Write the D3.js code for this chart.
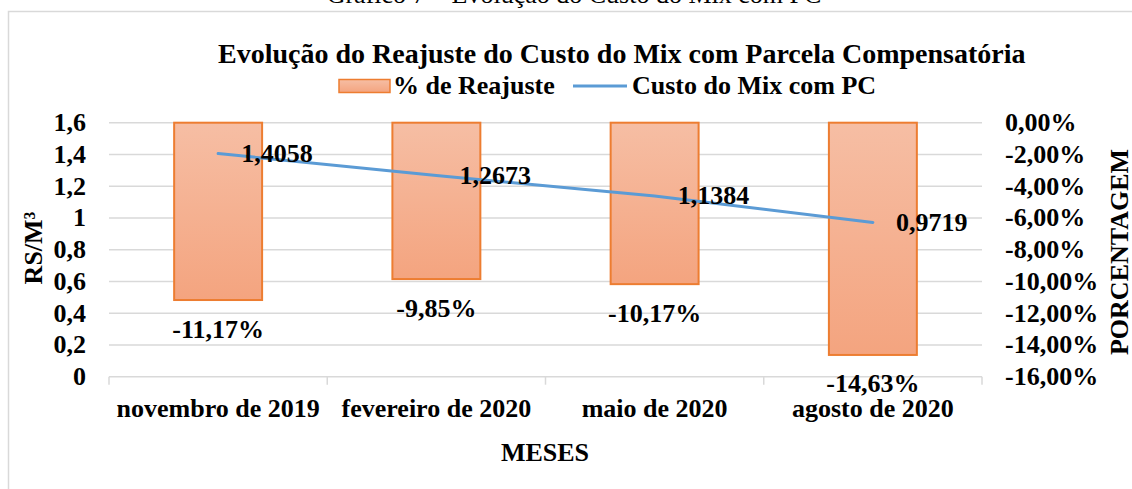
<!DOCTYPE html>
<html><head><meta charset="utf-8">
<script src="https://cdn.jsdelivr.net/npm/d3@7"></script>
<style>body{margin:0;background:#fff}svg{display:block}text{font-family:"Liberation Serif","Times New Roman",serif}</style>
</head><body>
<svg id="c" width="1132" height="489"></svg>
<script>
const categories = ["novembro de 2019","fevereiro de 2020","maio de 2020","agosto de 2020"];
const reajuste = [-11.17, -9.85, -10.17, -14.63];
const reajusteLabels = ["-11,17%","-9,85%","-10,17%","-14,63%"];
const custo = [1.4058, 1.2673, 1.1384, 0.9719];
const custoLabels = ["1,4058","1,2673","1,1384","0,9719"];
const leftTicks = [0,0.2,0.4,0.6,0.8,1,1.2,1.4,1.6];
const leftTickLabels = ["0","0,2","0,4","0,6","0,8","1","1,2","1,4","1,6"];
const rightTicks = [0,-2,-4,-6,-8,-10,-12,-14,-16];
const rightTickLabels = ["0,00%","-2,00%","-4,00%","-6,00%","-8,00%","-10,00%","-12,00%","-14,00%","-16,00%"];

const svg = d3.select("#c");
const L = 109, R = 982, T = 122.7, B = 376.7;
const FS = 26;

// outer border
svg.append("rect").attr("x",8.5).attr("y",11.5).attr("width",1300).attr("height",700)
  .attr("fill","none").attr("stroke","#d9d9d9").attr("stroke-width",1.5);

// caption (cut off at top)
svg.append("text").attr("x",574).attr("y",3).attr("text-anchor","middle")
  .attr("font-size",26).attr("fill","#000").text("Gráfico 7 – Evolução do Custo do Mix com PC");

const x = d3.scaleBand().domain(categories).range([L,R]).paddingInner(0).paddingOuter(0);
const yL = d3.scaleLinear().domain([0,1.6]).range([B,T]);
const yR = d3.scaleLinear().domain([-16,0]).range([B,T]);

// gridlines
svg.append("g").selectAll("line").data(leftTicks.slice(1)).join("line")
  .attr("x1",L).attr("x2",R).attr("y1",d=>yL(d)).attr("y2",d=>yL(d))
  .attr("stroke","#d9d9d9").attr("stroke-width",1.5);

// x axis line and ticks
svg.append("line").attr("x1",L).attr("x2",R).attr("y1",B).attr("y2",B).attr("stroke","#d9d9d9").attr("stroke-width",1.5);
const bounds = categories.map(c=>x(c)).concat([x(categories[categories.length-1])+x.bandwidth()]);
svg.append("g").selectAll("line").data(bounds).join("line")
  .attr("x1",d=>d).attr("x2",d=>d).attr("y1",B).attr("y2",B+8)
  .attr("stroke","#d9d9d9").attr("stroke-width",1.5);

// gradient
const defs = svg.append("defs");
const g = defs.append("linearGradient").attr("id","barg").attr("x1",0).attr("y1",0).attr("x2",0).attr("y2",1);
g.append("stop").attr("offset","0%").attr("stop-color","#f6bea4");
g.append("stop").attr("offset","100%").attr("stop-color","#f4a47f");

// bars (hang from 0% at top)
const bw = x.bandwidth()*0.403;
svg.append("g").selectAll("rect").data(reajuste).join("rect")
  .attr("x",(d,i)=>x(categories[i])+x.bandwidth()/2-bw/2)
  .attr("y",yR(0)).attr("width",bw).attr("height",d=>yR(d)-yR(0))
  .attr("fill","url(#barg)").attr("stroke","#ed7d31").attr("stroke-width",2);

// bar labels
svg.append("g").selectAll("text").data(reajuste).join("text")
  .attr("x",(d,i)=>x(categories[i])+x.bandwidth()/2).attr("y",d=>yR(d)+29)
  .attr("text-anchor","middle").attr("dominant-baseline","central")
  .attr("font-size",FS).attr("font-weight","bold").text((d,i)=>reajusteLabels[i]);

// line
const line = d3.line().x((d,i)=>x(categories[i])+x.bandwidth()/2).y(d=>yL(d));
svg.append("path").datum(custo).attr("d",line).attr("fill","none")
  .attr("stroke","#5b9bd5").attr("stroke-width",3).attr("stroke-linecap","round");

// line labels
svg.append("g").selectAll("text").data(custo).join("text")
  .attr("x",(d,i)=>x(categories[i])+x.bandwidth()/2+23).attr("y",d=>yL(d))
  .attr("dominant-baseline","central")
  .attr("font-size",FS).attr("font-weight","bold").text((d,i)=>custoLabels[i]);

// left tick labels
svg.append("g").selectAll("text").data(leftTicks).join("text")
  .attr("x",86).attr("y",d=>yL(d)).attr("text-anchor","end").attr("dominant-baseline","central")
  .attr("font-size",FS).attr("font-weight","bold").text((d,i)=>leftTickLabels[i]);

// right tick labels
svg.append("g").selectAll("text").data(rightTicks).join("text")
  .attr("x",1005).attr("y",d=>yR(d)).attr("dominant-baseline","central")
  .attr("font-size",FS).attr("font-weight","bold").text((d,i)=>rightTickLabels[i]);

// x labels
svg.append("g").selectAll("text").data(categories).join("text")
  .attr("x",d=>x(d)+x.bandwidth()/2).attr("y",416.5).attr("text-anchor","middle")
  .attr("font-size",FS).attr("font-weight","bold").text(d=>d);

// axis titles
svg.append("text").attr("x",545).attr("y",461).attr("text-anchor","middle")
  .attr("font-size",FS).attr("font-weight","bold").text("MESES");
svg.append("text").attr("transform","translate(42,248) rotate(-90)").attr("text-anchor","middle")
  .attr("font-size",FS).attr("font-weight","bold").text("RS/M³");
svg.append("text").attr("transform","translate(1128,252) rotate(-90)").attr("text-anchor","middle")
  .attr("font-size",FS).attr("font-weight","bold").text("PORCENTAGEM");

// title
svg.append("text").attr("x",218).attr("y",63)
  .attr("font-size",28).attr("font-weight","bold").text("Evolução do Reajuste do Custo do Mix com Parcela Compensatória");

// legend
svg.append("rect").attr("x",339).attr("y",79.5).attr("width",51).attr("height",13)
  .attr("fill","url(#barg)").attr("stroke","#ed7d31").attr("stroke-width",1.5);
svg.append("text").attr("x",393).attr("y",94).attr("font-size",FS).attr("font-weight","bold").text("% de Reajuste");
svg.append("line").attr("x1",573).attr("x2",627).attr("y1",86).attr("y2",86).attr("stroke","#5b9bd5").attr("stroke-width",3);
svg.append("text").attr("x",632).attr("y",94).attr("font-size",FS).attr("font-weight","bold").text("Custo do Mix com PC");
</script>
</body></html>
